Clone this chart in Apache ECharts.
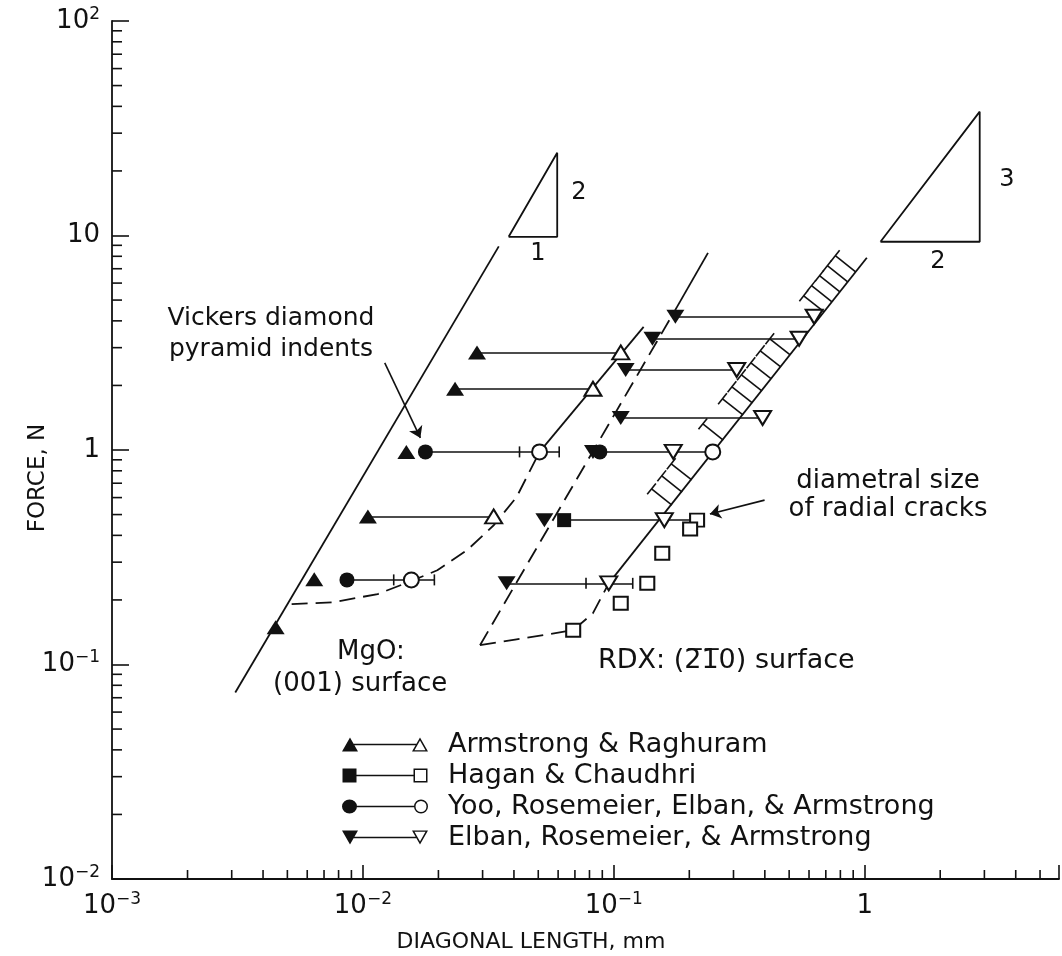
<!DOCTYPE html>
<html>
<head>
<meta charset="utf-8">
<script src="https://cdn.jsdelivr.net/npm/echarts@6/dist/echarts.min.js"></script>
<style>
html, body { margin: 0; padding: 0; background: #fff; }
#chart { width: 1062px; height: 956px; }
</style>
</head>
<body>
<div id="chart"></div>
<script>
var FONT = 'DejaVu Sans';
var INK = '#111';

// axis ticks (log10 decades) and their labels
var xTicks = [0.001, 0.01, 0.1, 1];
var xTickText = ['10{s|\u22123}', '10{s|\u22122}', '10{s|\u22121}', '1'];
var yTicks = [0.01, 0.1, 1, 10, 100];
var yTickText = ['10{s|\u22122}', '10{s|\u22121}', '1', '10', '10{s|2}'];
var minorMult = [2, 3, 4, 5, 6, 7, 8, 9];

// MgO (001) surface
var mgoIndentLine = [[0.0031, 0.074], [0.0348, 8.9]];
var mgoCrackDashed = [[0.0052, 0.191], [0.0076, 0.195], [0.01146, 0.213], [0.0156, 0.245], [0.0198, 0.275],
    [0.026, 0.341], [0.0333, 0.447], [0.041, 0.604], [0.0506, 0.98]];
var mgoCrackSolid = [[0.0506, 0.98], [0.1315, 3.75]];

// RDX (-2-10) surface
var rdxIndentDashed = [[0.0293, 0.123], [0.172, 4.3]];
var rdxIndentSolid = [[0.172, 4.3], [0.2374, 8.3]];
var rdxCrackDashed = [[0.0293, 0.123], [0.041, 0.131], [0.0689, 0.1445], [0.0826, 0.1735], [0.0955, 0.239]];
var rdxCrackSolid = [[0.0955, 0.239], [1.02, 7.87]];
var rdxHatch = [[0.1705, 0.554], [0.1872, 0.637], [0.2043, 0.725], [0.273, 1.113], [0.327, 1.457],
    [0.3566, 1.657], [0.389, 1.885], [0.4243, 2.145], [0.4625, 2.44], [0.5047, 2.775],
    [0.689, 4.40], [0.7406, 4.91], [0.7965, 5.46], [0.8558, 6.08], [0.9205, 6.77]];

// slope triangles
var slopeTri21 = [[0.0381, 9.86], [0.0595, 9.86], [0.0595, 24.3], [0.0381, 9.86]];
var slopeTri32 = [[1.156, 9.35], [2.874, 9.35], [2.874, 37.8], [1.156, 9.35]];

// data points (filled = indent diagonal, open = crack size)
var armstrongFilled = [[0.0285, 2.85], [0.0233, 1.93], [0.0149, 0.98], [0.01047, 0.49], [0.0064, 0.25], [0.00449, 0.149]];
var armstrongOpen = [[0.1066, 2.85], [0.0826, 1.93], [0.0332, 0.49]];
var haganFilled = [[0.0634, 0.471]];
var haganOpen = [[0.2148, 0.471], [0.2015, 0.428], [0.156, 0.330], [0.136, 0.239], [0.1066, 0.193], [0.0689, 0.1445]];
var yooFilled = [[0.01775, 0.98], [0.00864, 0.248], [0.088, 0.98]];
var yooOpen = [[0.0506, 0.98], [0.0156, 0.248], [0.248, 0.98]];
var elbanFilled = [[0.176, 4.18], [0.1426, 3.30], [0.1115, 2.36], [0.1066, 1.41], [0.0826, 0.98], [0.0529, 0.471], [0.0374, 0.239]];
var elbanOpen = [[0.629, 4.18], [0.548, 3.30], [0.309, 2.36], [0.392, 1.41], [0.1726, 0.98], [0.159, 0.471], [0.0955, 0.239]];

// horizontal connectors: [xFrom, xTo, force]
var connectors = [
    [0.0285, 0.1066, 2.85], [0.0233, 0.0826, 1.93], [0.01775, 0.0606, 0.98], [0.01047, 0.0332, 0.49], [0.00864, 0.01927, 0.248],
    [0.176, 0.629, 4.18], [0.1426, 0.548, 3.30], [0.1115, 0.309, 2.36], [0.1066, 0.392, 1.41],
    [0.088, 0.248, 0.98], [0.0634, 0.2148, 0.471], [0.0374, 0.119, 0.239]
];
// error bars: [low, high, force]
var errorBars = [[0.0421, 0.0606, 0.98], [0.01327, 0.01927, 0.248], [0.0775, 0.119, 0.239]];

var arrowVickers = [[0.01222, 2.546], [0.01695, 1.138]];
var arrowCracks = [[0.399, 0.584], [0.2416, 0.503]];

var studies = ['Armstrong & Raghuram', 'Hagan & Chaudhri', 'Yoo, Rosemeier, Elban, & Armstrong', 'Elban, Rosemeier, & Armstrong'];

var X_MIN = 0.001, X_MAX = 5.95, Y_MIN = 0.01, Y_MAX = 100;

function tickLabel(ticks, texts) {
    return function (v) {
        for (var i = 0; i < ticks.length; i++) {
            if (Math.abs(Math.log10(ticks[i]) - Math.log10(v)) < 1e-6) return texts[i];
        }
        return '';
    };
}

var xMinor = [], yMinor = [];
xTicks.forEach(function (d) {
    minorMult.forEach(function (m) {
        if (d * m < X_MAX) xMinor.push([d * m, Y_MIN]);
    });
});
yTicks.slice(0, 4).forEach(function (d) {
    minorMult.forEach(function (m) { yMinor.push([X_MIN, d * m]); });
});

var errCaps = [];
errorBars.forEach(function (e) {
    errCaps.push([e[0], e[2]]);
    errCaps.push([e[1], e[2]]);
});

function seg(style, x1, y1, x2, y2) {
    return { type: 'line', shape: { x1: x1, y1: y1, x2: x2, y2: y2 }, style: style };
}
var inkStroke = { stroke: INK, lineWidth: 1.6 };

function renderMinorX(params, api) {
    var p = api.coord([api.value(0), api.value(1)]);
    return seg(inkStroke, p[0], p[1], p[0], p[1] - 9);
}
function renderMinorY(params, api) {
    var p = api.coord([api.value(0), api.value(1)]);
    return seg(inkStroke, p[0], p[1], p[0] + 10, p[1]);
}
function renderCap(params, api) {
    var p = api.coord([api.value(0), api.value(1)]);
    return seg(inkStroke, p[0], p[1] - 5.5, p[0], p[1] + 5.5);
}
function renderHatch(params, api) {
    var a = api.coord(rdxCrackSolid[0]);
    var b = api.coord(rdxCrackSolid[1]);
    var dx = b[0] - a[0], dy = b[1] - a[1];
    var len = Math.sqrt(dx * dx + dy * dy);
    var ux = dx / len, uy = dy / len;
    var nx = uy, ny = -ux;
    var p = api.coord([api.value(0), api.value(1)]);
    var q = [p[0] + nx * 26, p[1] + ny * 26];
    return {
        type: 'group',
        children: [
            seg(inkStroke, p[0], p[1], q[0], q[1]),
            seg(inkStroke, q[0] - ux * 7, q[1] - uy * 7, q[0] + ux * 7, q[1] + uy * 7)
        ]
    };
}

function curve(data, dashed) {
    return {
        type: 'line', data: data, symbol: 'none', silent: true, z: 2,
        lineStyle: { color: INK, width: 1.8, type: dashed ? [16, 8] : 'solid' }
    };
}

function marks(name, data, symbol, size, rotate, open) {
    return {
        type: 'scatter', name: name, data: data, symbol: symbol, symbolSize: size,
        symbolRotate: rotate, z: open ? 5 : 4, silent: true,
        itemStyle: open ? { color: INK, borderColor: INK, borderWidth: 1.6, opacity: 1 } : { color: INK, opacity: 1 }
    };
}

// legend icons: filled mark, line, open mark
var iconTri = 'path://M2 14L10 0L18 14Z M10 6.3L77 6.3L77 7.7L10 7.7Z M72 14L80 0L88 14Z M74.5 12.7L85.5 12.7L80 3.1Z';
var iconRect = 'path://M3 0L17 0L17 14L3 14Z M17 6.3L74 6.3L74 7.7L17 7.7Z M74 0L88 0L88 14L74 14Z M75.5 1.5L75.5 12.5L86.5 12.5L86.5 1.5Z';
var iconCircle = 'path://M2 7A7.5 7 0 1 1 17 7A7.5 7 0 1 1 2 7Z M15 6.3L74 6.3L74 7.7L15 7.7Z M74 7A7 7 0 1 1 88 7A7 7 0 1 1 74 7Z M75.5 7A5.5 5.5 0 1 0 86.5 7A5.5 5.5 0 1 0 75.5 7Z';
var iconDown = 'path://M2 0L18 0L10 14Z M10 6.3L77 6.3L77 7.7L10 7.7Z M72 0L88 0L80 14Z M74.5 1.3L80 10.9L85.5 1.3Z';

var chart = echarts.init(document.getElementById('chart'));

var option = {
    animation: false,
    backgroundColor: '#fff',
    grid: { left: 112, right: -5, top: 21, bottom: 77, containLabel: false },
    xAxis: {
        type: 'log', logBase: 10, min: X_MIN, max: X_MAX,
        axisLine: { lineStyle: { color: INK, width: 1.8 } },
        axisTick: { inside: true, length: 14, lineStyle: { color: INK, width: 1.6 } },
        splitLine: { show: false },
        axisLabel: {
            margin: 12, color: INK, fontFamily: FONT, fontSize: 26, lineHeight: 30,
            formatter: tickLabel(xTicks, xTickText),
            rich: { s: { fontFamily: FONT, fontSize: 17, color: INK, verticalAlign: 'top', lineHeight: 16 } }
        }
    },
    yAxis: {
        type: 'log', logBase: 10, min: Y_MIN, max: Y_MAX,
        axisLine: { lineStyle: { color: INK, width: 1.8 } },
        axisTick: { inside: true, length: 17, lineStyle: { color: INK, width: 1.6 } },
        splitLine: { show: false },
        axisLabel: {
            margin: 12, color: INK, fontFamily: FONT, fontSize: 26, lineHeight: 30,
            formatter: tickLabel(yTicks, yTickText),
            rich: { s: { fontFamily: FONT, fontSize: 17, color: INK, verticalAlign: 'top', lineHeight: 16 } }
        }
    },
    legend: {
        orient: 'vertical', left: 337, top: 726,
        itemWidth: 90, itemHeight: 14, itemGap: 4,
        selectedMode: false,
        textStyle: { fontFamily: FONT, fontSize: 27, lineHeight: 26, color: INK, padding: [0, 0, 0, 13] },
        data: [
            { name: studies[0], icon: iconTri },
            { name: studies[1], icon: iconRect },
            { name: studies[2], icon: iconCircle },
            { name: studies[3], icon: iconDown }
        ]
    },
    graphic: [
        { type: 'text', x: 271, y: 334, style: { text: 'Vickers diamond\npyramid indents', fontFamily: FONT, fontSize: 25, lineHeight: 31, fill: INK, align: 'center', verticalAlign: 'middle' } },
        { type: 'text', x: 337, y: 652, style: { text: 'MgO:', fontFamily: FONT, fontSize: 26, fill: INK, align: 'left', verticalAlign: 'middle' } },
        { type: 'text', x: 273, y: 684, style: { text: '(001) surface', fontFamily: FONT, fontSize: 26, fill: INK, align: 'left', verticalAlign: 'middle' } },
        { type: 'text', x: 598, y: 661, style: { text: 'RDX: (2\u03051\u03050) surface', fontFamily: FONT, fontSize: 27, fill: INK, align: 'left', verticalAlign: 'middle' } },
        { type: 'text', x: 888, y: 495, style: { text: 'diametral size\nof radial cracks', fontFamily: FONT, fontSize: 26, lineHeight: 28, fill: INK, align: 'center', verticalAlign: 'middle' } },
        { type: 'text', x: 579, y: 193, style: { text: '2', fontFamily: FONT, fontSize: 24, fill: INK, align: 'center', verticalAlign: 'middle' } },
        { type: 'text', x: 538, y: 254, style: { text: '1', fontFamily: FONT, fontSize: 24, fill: INK, align: 'center', verticalAlign: 'middle' } },
        { type: 'text', x: 1007, y: 180, style: { text: '3', fontFamily: FONT, fontSize: 24, fill: INK, align: 'center', verticalAlign: 'middle' } },
        { type: 'text', x: 938, y: 262, style: { text: '2', fontFamily: FONT, fontSize: 24, fill: INK, align: 'center', verticalAlign: 'middle' } },
        { type: 'text', x: 38, y: 478, rotation: Math.PI / 2, style: { text: 'FORCE, N', fontFamily: FONT, fontSize: 23, fill: INK, align: 'center', verticalAlign: 'middle' } },
        { type: 'text', x: 531, y: 942, style: { text: 'DIAGONAL LENGTH, mm', fontFamily: FONT, fontSize: 22, fill: INK, align: 'center', verticalAlign: 'middle' } }
    ],
    series: [
        curve(mgoIndentLine, false),
        curve(mgoCrackDashed, true),
        curve(mgoCrackSolid, false),
        curve(rdxIndentDashed, true),
        curve(rdxIndentSolid, false),
        curve(rdxCrackDashed, true),
        curve(rdxCrackSolid, false),
        curve(slopeTri21, false),
        curve(slopeTri32, false),
        {
            type: 'lines', coordinateSystem: 'cartesian2d', silent: true, z: 2,
            lineStyle: { color: INK, width: 1.6, opacity: 1 },
            data: connectors.map(function (c) { return { coords: [[c[0], c[2]], [c[1], c[2]]] }; })
        },
        {
            type: 'lines', coordinateSystem: 'cartesian2d', silent: true, z: 2,
            symbol: ['none', 'arrow'], symbolSize: 11,
            lineStyle: { color: INK, width: 1.6, opacity: 1 },
            data: [{ coords: arrowVickers }, { coords: arrowCracks }]
        },
        { type: 'custom', renderItem: renderHatch, data: rdxHatch, silent: true, z: 2, clip: false },
        { type: 'custom', renderItem: renderCap, data: errCaps, silent: true, z: 3, clip: false },
        { type: 'custom', renderItem: renderMinorX, data: xMinor, silent: true, z: 3, clip: false },
        { type: 'custom', renderItem: renderMinorY, data: yMinor, silent: true, z: 3, clip: false },
        marks(studies[0], armstrongFilled, 'triangle', [18, 14], 0, false),
        marks(studies[1], haganFilled, 'rect', [14, 14], 0, false),
        marks(studies[3], elbanFilled, 'triangle', [18, 14], 180, false),
        marks(studies[2], yooFilled, 'circle', 15, 0, false),
        marks(studies[0], armstrongOpen, 'emptyTriangle', [17, 14], 0, true),
        marks(studies[1], haganOpen, 'emptyRect', [14, 13], 0, true),
        marks(studies[3], elbanOpen, 'emptyTriangle', [17, 14], 180, true),
        marks(studies[2], yooOpen, 'emptyCircle', 15, 0, true)
    ]
};

chart.setOption(option);
</script>
</body>
</html>
